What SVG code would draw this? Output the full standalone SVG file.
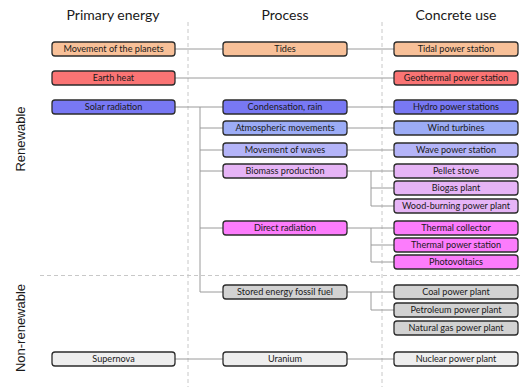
<svg xmlns="http://www.w3.org/2000/svg" width="522" height="387" viewBox="0 0 522 387">
<style>
.b{stroke:#2b2b2b;stroke-width:1.3}
.t{font-family:Lato,"Open Sans",sans-serif;font-size:9.1px;fill:#1a1a1a;text-anchor:middle}
.h{font-family:Lato,"Open Sans",sans-serif;font-size:14px;fill:#1a1a1a;text-anchor:middle}
.s{font-family:"Liberation Sans",Arial,sans-serif;font-size:13px;fill:#1a1a1a;text-anchor:middle}
.c{fill:none;stroke:#9a9a9a;stroke-width:1}
.d{fill:none;stroke:#c8c8c8;stroke-width:1;stroke-dasharray:4 3}
.peach{fill:#f8c098}.red{fill:#fa7474}.blue{fill:#7878f4}.lblue{fill:#9cacf6}.lav{fill:#b4b4f8}.pink{fill:#e6b4f6}.mag{fill:#fc7cfc}.gray{fill:#d2d2d2}.lgray{fill:#eeeeee}
</style>
<g id="guides">
<path class="d" d="M188 22V387M382 22V387M40 275.5H522"/>
</g>
<g id="headings">
<text class="h" x="113" y="20">Primary energy</text>
<text class="h" x="285" y="20">Process</text>
<text class="h" x="456" y="20">Concrete use</text>
<text class="s" transform="translate(25 139) rotate(-90)">Renewable</text>
<text class="s" transform="translate(25 328) rotate(-90)">Non-renewable</text>
</g>
<g id="connectors">
<path class="c" d="M175 49H223M347 49H394M175 78H394M175 107H223M200 107V292M200 128H223M200 150H223M200 171H223M200 228H223M200 292H223M347 107H394M347 128H394M347 150H394M347 171H394M371 171V206M371 188H394M371 206H394M347 228H394M371 228V262M371 245H394M371 262H394M347 292H394M371 292V310M371 310H394M175 359H223M347 359H394"/>
</g>
<g id="n-planets"><rect class="b peach" x="52" y="42" width="123" height="14" rx="3"/><text class="t" x="113.5" y="52.3">Movement of the planets</text></g>
<g id="n-earth"><rect class="b red" x="52" y="71" width="123" height="14" rx="3"/><text class="t" x="113.5" y="81.3">Earth heat</text></g>
<g id="n-solar"><rect class="b blue" x="52" y="100" width="123" height="14" rx="3"/><text class="t" x="113.5" y="110.3">Solar radiation</text></g>
<g id="n-supernova"><rect class="b lgray" x="52" y="352" width="123" height="14" rx="3"/><text class="t" x="113.5" y="362.3">Supernova</text></g>
<g id="n-tides"><rect class="b peach" x="223" y="42" width="124" height="14" rx="3"/><text class="t" x="285" y="52.3">Tides</text></g>
<g id="n-cond"><rect class="b blue" x="223" y="100" width="124" height="14" rx="3"/><text class="t" x="285" y="110.3">Condensation, rain</text></g>
<g id="n-atmos"><rect class="b lblue" x="223" y="121" width="124" height="14" rx="3"/><text class="t" x="285" y="131.3">Atmospheric movements</text></g>
<g id="n-waves"><rect class="b lav" x="223" y="143" width="124" height="14" rx="3"/><text class="t" x="285" y="153.3">Movement of waves</text></g>
<g id="n-biomass"><rect class="b pink" x="223" y="164" width="124" height="14" rx="3"/><text class="t" x="285" y="174.3">Biomass production</text></g>
<g id="n-direct"><rect class="b mag" x="223" y="221" width="124" height="14" rx="3"/><text class="t" x="285" y="231.3">Direct radiation</text></g>
<g id="n-stored"><rect class="b gray" x="223" y="285" width="124" height="14" rx="3"/><text class="t" x="285" y="295.3">Stored energy fossil fuel</text></g>
<g id="n-uranium"><rect class="b lgray" x="223" y="352" width="124" height="14" rx="3"/><text class="t" x="285" y="362.3">Uranium</text></g>
<g id="n-tidal"><rect class="b peach" x="394" y="42" width="124" height="14" rx="3"/><text class="t" x="456" y="52.3">Tidal power station</text></g>
<g id="n-geo"><rect class="b red" x="394" y="71" width="124" height="14" rx="3"/><text class="t" x="456" y="81.3">Geothermal power station</text></g>
<g id="n-hydro"><rect class="b blue" x="394" y="100" width="124" height="14" rx="3"/><text class="t" x="456" y="110.3">Hydro power stations</text></g>
<g id="n-wind"><rect class="b lblue" x="394" y="121" width="124" height="14" rx="3"/><text class="t" x="456" y="131.3">Wind turbines</text></g>
<g id="n-wave"><rect class="b lav" x="394" y="143" width="124" height="14" rx="3"/><text class="t" x="456" y="153.3">Wave power station</text></g>
<g id="n-pellet"><rect class="b pink" x="394" y="164" width="124" height="14" rx="3"/><text class="t" x="456" y="174.3">Pellet stove</text></g>
<g id="n-biogas"><rect class="b pink" x="394" y="181" width="124" height="14" rx="3"/><text class="t" x="456" y="191.3">Biogas plant</text></g>
<g id="n-wood"><rect class="b pink" x="394" y="199" width="124" height="14" rx="3"/><text class="t" x="456" y="209.3">Wood-burning power plant</text></g>
<g id="n-tcoll"><rect class="b mag" x="394" y="221" width="124" height="14" rx="3"/><text class="t" x="456" y="231.3">Thermal collector</text></g>
<g id="n-tps"><rect class="b mag" x="394" y="238" width="124" height="14" rx="3"/><text class="t" x="456" y="248.3">Thermal power station</text></g>
<g id="n-pv"><rect class="b mag" x="394" y="255" width="124" height="14" rx="3"/><text class="t" x="456" y="265.3">Photovoltaics</text></g>
<g id="n-coal"><rect class="b gray" x="394" y="285" width="124" height="14" rx="3"/><text class="t" x="456" y="295.3">Coal power plant</text></g>
<g id="n-petrol"><rect class="b gray" x="394" y="303" width="124" height="14" rx="3"/><text class="t" x="456" y="313.3">Petroleum power plant</text></g>
<g id="n-gas"><rect class="b gray" x="394" y="321" width="124" height="14" rx="3"/><text class="t" x="456" y="331.3">Natural gas power plant</text></g>
<g id="n-nuclear"><rect class="b lgray" x="394" y="352" width="124" height="14" rx="3"/><text class="t" x="456" y="362.3">Nuclear power plant</text></g>
</svg>
